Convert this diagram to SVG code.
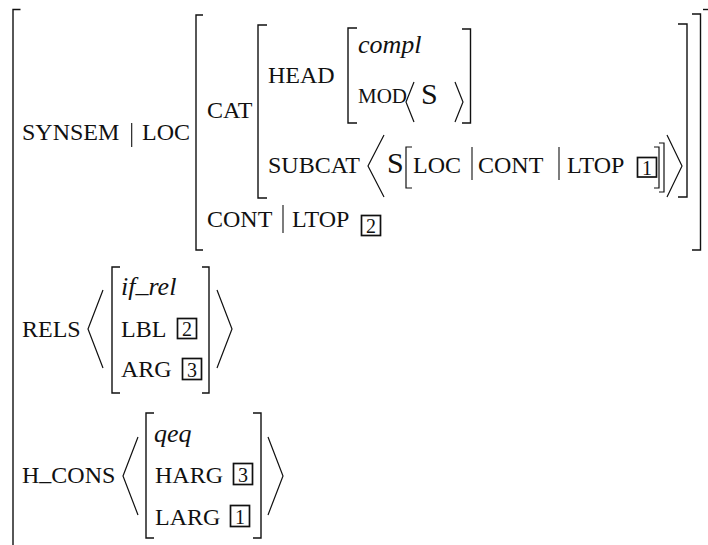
<svg xmlns="http://www.w3.org/2000/svg" width="708" height="545" viewBox="0 0 708 545" font-family="Liberation Serif, DejaVu Serif, serif">
<style>
text{fill:#111}
.t{font-size:24px}
.i{font-style:italic;font-size:26px}
.m{font-size:21px}
.big{font-size:30px}
.d{font-size:20px;text-anchor:middle}
.b{fill:none;stroke:#111;stroke-width:1.4}
.a{fill:none;stroke:#111;stroke-width:1.2}
.v{stroke:#111;stroke-width:1.1}
.x{fill:none;stroke:#111;stroke-width:1.7}
</style>
<rect width="708" height="545" fill="#fff"/>
<g id="brackets">
<path class="b" d="M20.5,9.5 H13 V545"/>
<path class="b" d="M703,9.5 H708"/>
<path class="b" d="M203,15 H196 V250 H203"/>
<path class="b" d="M692,14 H700.5 V250 H692"/>
<path class="b" d="M267,25 H258 V198 H267"/>
<path class="b" d="M678,24 H687 V197 H678"/>
<path class="b" d="M357,28 H348 V123 H357"/>
<path class="b" d="M462,29 H470.5 V123 H462"/>
<path class="a" d="M412,147 H406 V188 H412"/>
<path class="a" d="M654,147 H659 V188 H654"/>
<path class="a" d="M659,143 H664 V192 H659"/>
<path class="b" d="M120,267 H112 V393 H120"/>
<path class="b" d="M202,267 H209 V393 H202"/>
<path class="b" d="M154,413 H146 V538 H154"/>
<path class="b" d="M253,413 H261 V538 H253"/>
</g>
<g id="angles">
<path class="a" d="M414,82 L406,102 L414,122"/>
<path class="a" d="M455,82 L463,102 L455,122"/>
<path class="a" d="M384,135 L368,166 L384,197"/>
<path class="a" d="M667,135 L682,166 L667,197"/>
<path class="a" d="M103,290 L88,329 L103,368"/>
<path class="a" d="M217,290 L232,329 L217,368"/>
<path class="a" d="M138,437 L123,476 L138,515"/>
<path class="a" d="M268,437 L283,476 L268,515"/>
</g>
<g id="bars">
<line class="v" x1="131.7" y1="123" x2="131.7" y2="147"/>
<line class="v" x1="283" y1="205" x2="283" y2="233"/>
<line class="v" x1="472" y1="147" x2="472" y2="180"/>
<line class="v" x1="559" y1="147" x2="559" y2="180"/>
</g>
<g id="synsem">
<text class="t" x="22" y="140">SYNSEM</text>
<text class="t" x="142" y="140">LOC</text>
<text class="t" x="207" y="118">CAT</text>
<text class="t" x="268" y="83">HEAD</text>
<text class="t i" x="358" y="53">compl</text>
<text class="t m" x="358" y="103">MOD</text>
<text class="t big" x="421" y="104">S</text>
<text class="t" x="268" y="173">SUBCAT</text>
<text class="t big" x="387" y="173">S</text>
<text class="t" x="413" y="173">LOC</text>
<text class="t" x="478" y="173">CONT</text>
<text class="t" x="567" y="173">LTOP</text>
<rect class="x" x="637.5" y="157.5" width="19" height="19.5"/>
<text class="d" x="647" y="174.5">1</text>
<text class="t" x="207" y="227">CONT</text>
<text class="t" x="292" y="227">LTOP</text>
<rect class="x" x="361.5" y="215.5" width="19" height="20"/>
<text class="d" x="371" y="233">2</text>
</g>
<g id="rels">
<text class="t" x="22" y="337">RELS</text>
<text class="t i" x="121" y="295">if<tspan dy="-3">_</tspan><tspan dy="3">rel</tspan></text>
<text class="t" x="121" y="337">LBL</text>
<rect class="x" x="177.5" y="318.5" width="19" height="20"/>
<text class="d" x="187" y="336">2</text>
<text class="t" x="121" y="377">ARG</text>
<rect class="x" x="182.5" y="358.5" width="19" height="21"/>
<text class="d" x="192" y="376.5">3</text>
</g>
<g id="hcons">
<text class="t" x="22" y="483">H<tspan dy="-3">_</tspan><tspan dy="3">CONS</tspan></text>
<text class="t i" x="154" y="442">qeq</text>
<text class="t" x="155" y="483">HARG</text>
<rect class="x" x="233.5" y="463.5" width="19" height="21"/>
<text class="d" x="243" y="481.5">3</text>
<text class="t" x="155" y="525">LARG</text>
<rect class="x" x="230.5" y="505.5" width="19" height="21"/>
<text class="d" x="240" y="523.5">1</text>
</g>
</svg>
